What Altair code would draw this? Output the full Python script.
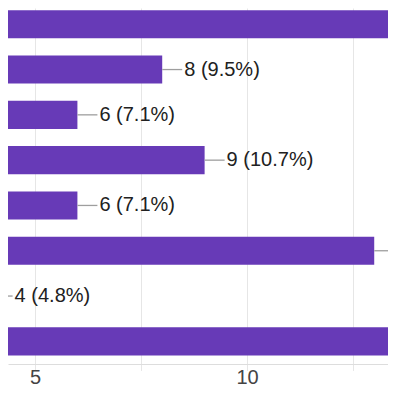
import altair as alt
import pandas as pd

categories = ["Option 1", "Option 2", "Option 3", "Option 4",
              "Option 5", "Option 6", "Option 7", "Option 8"]
counts = [19, 8, 6, 9, 6, 13, 4, 19]
total = 84
labels = [f"{c} ({c / total * 100:.1f}%)" for c in counts]
tick_values = [5, 7.5, 10, 12.5]

df = pd.DataFrame({"cat": categories, "count": counts, "label": labels})

PURPLE = "#673AB7"
FONT = "Liberation Sans"

x_scale = alt.Scale(domain=[4.363, 13.325], nice=False, zero=False)
y_scale = alt.Scale(domain=categories, range=[-6.4, 356],
                    paddingInner=0.38, paddingOuter=0.19)

x_enc = alt.X("count:Q", scale=x_scale,
              axis=alt.Axis(values=tick_values, title=None, ticks=False,
                            grid=True, gridColor="#e6e6e6",
                            domain=True, domainColor="#dddddd",
                            labelExpr="datum.value % 5 === 0 ? datum.label : ''",
                            labelFont=FONT, labelFontSize=20,
                            labelColor="#444444", labelPadding=3))
y_enc = alt.Y("cat:N", scale=y_scale, axis=None, sort=categories)

base = alt.Chart(df)

bars = base.mark_bar(color=PURPLE, clip=True).encode(x=x_enc, y=y_enc)

leaders = base.mark_rule(color="#9e9e9e", strokeWidth=1.3, clip=True,
                         x2Offset=20).encode(
    x=alt.X("count:Q", scale=x_scale), x2="count:Q", y=y_enc)

# labels whose text would start beyond the visible plot are left out
texts = base.transform_filter("datum.count < 12").mark_text(
    align="left", baseline="middle", dx=22, font=FONT,
    fontSize=20, color="#212121", clip=True).encode(
    x=alt.X("count:Q", scale=x_scale), y=y_enc, text="label:N")

chart = alt.layer(bars, leaders, texts).properties(
    width=380, height=356, padding=0
).configure_view(stroke=None)

chart.save("out.html", embed_options={"renderer": "svg", "actions": False})
